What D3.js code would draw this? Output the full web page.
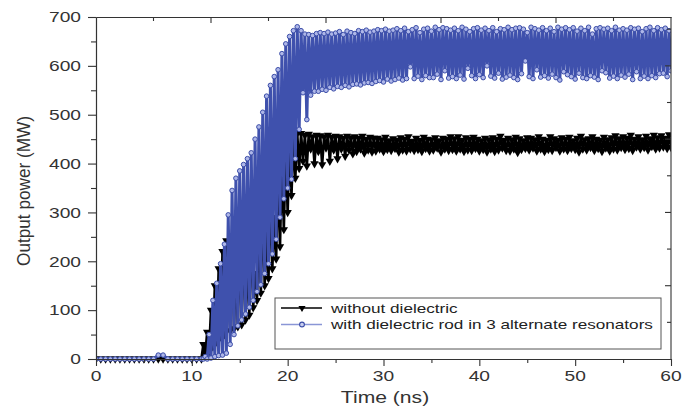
<!DOCTYPE html>
<html><head><meta charset="utf-8">
<script src="https://cdn.jsdelivr.net/npm/d3@7"></script>
<style>body{margin:0;background:#fff}</style>
</head><body><svg id="c" width="687" height="414"></svg>
<script>
const xTicks=[0,10,20,30,40,50,60];
const xMinor=[5,15,25,35,45,55];
const yTicks=[0,100,200,300,400,500,600,700];
const yMinor=[50,150,250,350,450,550,650];
const topTicks=[6,12,18,24,30,36,42,48,54];
const rightTicks=[75,150,225,300,375,450,525,600,675];
const seriesNames=["without dielectric","with dielectric rod in 3 alternate resonators"];
const xTitle="Time (ns)";
const yTitle="Output power (MW)";

const timeNs=[0,0.5,1,1.5,2,2.5,3,3.5,4,4.5,5,5.5,6,6.5,7,7.5,8,8.5,9,9.5,10,10.5,11,
11.2,11.4,11.6,11.8,12,12.2,12.4,12.6,12.8,13,
13.2,13.4,13.6,13.8,14,14.2,14.4,14.6,14.8,15,
15.2,15.4,15.6,15.8,16,16.2,16.4,16.6,16.8,17,
17.2,17.4,17.6,17.8,18,18.2,18.4,18.6,18.8,19,
19.2,19.4,19.6,19.8,20,20.2,20.4,20.6,20.8,21,
21.2,21.4,21.6,21.8,22,22.2,22.4,22.6,22.8,23,
23.2,23.4,23.6,23.8,24,24.2,24.4,24.6,24.8,25,
25.2,25.4,25.6,25.8,26,26.2,26.4,26.6,26.8,27,
27.2,27.4,27.6,27.8,28,28.2,28.4,28.6,28.8,29,
29.2,29.4,29.6,29.8,30,30.2,30.4,30.6,30.8,31,
31.2,31.4,31.6,31.8,32,32.2,32.4,32.6,32.8,33,
33.2,33.4,33.6,33.8,34,34.2,34.4,34.6,34.8,35,
35.2,35.4,35.6,35.8,36,36.2,36.4,36.6,36.8,37,
37.2,37.4,37.6,37.8,38,38.2,38.4,38.6,38.8,39,
39.2,39.4,39.6,39.8,40,40.2,40.4,40.6,40.8,41,
41.2,41.4,41.6,41.8,42,42.2,42.4,42.6,42.8,43,
43.2,43.4,43.6,43.8,44,44.2,44.4,44.6,44.8,45,
45.2,45.4,45.6,45.8,46,46.2,46.4,46.6,46.8,47,
47.2,47.4,47.6,47.8,48,48.2,48.4,48.6,48.8,49,
49.2,49.4,49.6,49.8,50,50.2,50.4,50.6,50.8,51,
51.2,51.4,51.6,51.8,52,52.2,52.4,52.6,52.8,53,
53.2,53.4,53.6,53.8,54,54.2,54.4,54.6,54.8,55,
55.2,55.4,55.6,55.8,56,56.2,56.4,56.6,56.8,57,
57.2,57.4,57.6,57.8,58,58.2,58.4,58.6,58.8,59,
59.2,59.4,59.6,59.8,60];

const powerWithout=[0,0,0,0,0,0,0,0,0,0,0,0,0,0,0,0,0,0,0,0,0,0,0,
30,8,55,15,100,25,150,35,185,45,
220,50,242,150,58,250,62,190,66,255,
70,270,80,210,90,290,105,175,120,300,
135,330,150,260,165,360,185,290,205,385,
230,410,265,430,300,445,335,455,370,462,
390,462,405,458,395,460,430,455,400,458,
425,457,398,455,432,458,405,454,428,456,
410,455,430,452,415,456,428,453,420,455,
425,452,430,456,422,450,428,454,424,452,
426,452,430,449,425,454,429,447,427,451,
431,448,424,453,428,450,426,455,430,446,
427,452,429,448,425,454,431,450,426,449,
428,453,432,447,424,452,430,450,427,455,
429,451,426,455,430,448,425,453,428,450,
427,454,431,450,426,447,429,452,424,449,
430,453,425,450,428,456,432,448,427,452,
426,449,430,454,423,451,429,447,431,453,
428,452,432,449,426,455,430,450,425,448,
429,455,427,451,433,448,426,453,430,450,
427,454,431,447,429,452,424,456,430,449,
428,451,433,455,427,450,431,448,425,454,
432,449,426,453,430,457,428,451,433,455,
429,452,431,458,427,450,434,455,430,449,
433,456,428,451,435,458,430,453,432,457,
434,452,431,459,433];

const powerWithRod=[0,0,0,0,0,0,0,0,0,0,0,0,0,8,8,0,0,0,0,0,0,0,0,
0,5,0,50,2,120,5,155,7,195,
8,235,12,295,30,345,50,370,68,385,
80,398,92,410,106,422,120,450,138,475,
152,505,175,538,195,560,215,578,245,592,
290,625,328,645,350,660,368,672,410,680,
470,672,545,665,490,664,540,662,548,666,
548,668,552,666,550,669,556,665,553,667,
558,670,556,664,560,671,557,668,562,666,
563,672,561,670,565,673,566,669,564,671,
568,674,570,672,567,675,573,671,569,673,
572,676,575,672,571,677,574,670,598,674,
574,678,579,668,572,675,580,677,576,671,
576,679,583,674,572,678,590,676,575,673,
578,677,574,672,581,679,573,675,595,670,
580,676,574,678,582,673,576,677,600,672,
579,678,575,670,585,676,573,674,577,679,
581,674,576,677,572,678,584,675,610,668,
578,679,574,676,592,673,577,678,580,672,
575,677,583,670,576,679,571,675,588,678,
582,674,578,678,573,671,585,677,576,672,
574,679,580,665,577,676,572,678,590,675,
586,677,575,672,579,679,574,673,581,676,
577,673,583,678,572,675,588,677,574,670,
579,676,574,679,580,672,576,678,584,674,
585,677,578,672,590];

const W=687,H=414,L=96,R=671,T=17,B=359;
const SX=1.28;
const font="'Liberation Sans', Arial, Helvetica, sans-serif";
const ink="#333";
const svg=d3.select("#c");
svg.append("rect").attr("width",W).attr("height",H).attr("fill","#fff");
const x=d3.scaleLinear().domain([0,60]).range([L,R]);
const y=d3.scaleLinear().domain([0,700]).range([B,T]);

svg.append("defs").append("clipPath").attr("id","clip")
  .append("rect").attr("x",L).attr("y",T-8).attr("width",R-L).attr("height",B-T+14);
const plot=svg.append("g").attr("clip-path","url(#clip)");

const n=Math.min(timeNs.length,powerWithout.length,powerWithRod.length);
const blackPts=d3.range(n).map(i=>({t:timeNs[i],v:powerWithout[i]}));
const bluePts=d3.range(n).map(i=>({t:timeNs[i],v:powerWithRod[i]}));
const line=d3.line().x(d=>x(d.t)).y(d=>y(d.v));
const tri=d3.symbol().type(d3.symbolTriangle).size(30)();

plot.append("path").datum(blackPts).attr("d",line).attr("fill","none").attr("stroke","#000")
  .attr("stroke-width",2.6).attr("stroke-linejoin","round");
plot.append("g").selectAll("path").data(blackPts).join("path").attr("d",tri)
  .attr("transform",d=>`translate(${x(d.t)},${y(d.v)}) rotate(180)`).attr("fill","#000");

plot.append("path").datum(bluePts).attr("d",line).attr("fill","none").attr("stroke","#3f51ad")
  .attr("stroke-width",3).attr("stroke-linejoin","round");
plot.append("g").selectAll("circle").data(bluePts).join("circle")
  .attr("cx",d=>x(d.t)).attr("cy",d=>y(d.v)).attr("r",2.3)
  .attr("fill","#aeb7e8").attr("stroke","#3a4ca8").attr("stroke-width",1);

// axes
function styleAxis(g){g.selectAll("path,line").attr("stroke",ink).attr("stroke-width",1.1);}
svg.append("g").attr("transform",`translate(0,${B})`)
  .call(d3.axisBottom(x).tickValues(xTicks).tickSize(7).tickSizeOuter(0).tickFormat("")).call(styleAxis);
svg.append("g").attr("transform",`translate(0,${B})`)
  .call(d3.axisBottom(x).tickValues(xMinor).tickSize(4).tickSizeOuter(0).tickFormat("")).call(styleAxis);
svg.append("g").attr("transform",`translate(${L},0)`)
  .call(d3.axisLeft(y).tickValues(yTicks).tickSize(8).tickSizeOuter(0).tickFormat("")).call(styleAxis);
svg.append("g").attr("transform",`translate(${L},0)`)
  .call(d3.axisLeft(y).tickValues(yMinor).tickSize(5).tickSizeOuter(0).tickFormat("")).call(styleAxis);
// top axis (inward ticks)
const xTop=d3.scaleLinear().domain([0,60]).range([L,R]);
svg.append("g").attr("transform",`translate(0,${T})`)
  .call(d3.axisBottom(xTop).tickValues(topTicks).tickSize(0).tickSizeOuter(0).tickFormat("")).call(styleAxis);
svg.append("g").selectAll("line").data(topTicks).join("line")
  .attr("x1",d=>xTop(d)).attr("x2",d=>xTop(d)).attr("y1",T).attr("y2",(d,i)=>T+(i%2?6:4))
  .attr("stroke",ink).attr("stroke-width",1.1);
// right axis (inward ticks)
svg.append("line").attr("x1",R).attr("x2",R).attr("y1",T).attr("y2",B).attr("stroke",ink).attr("stroke-width",1.1);
svg.append("g").selectAll("line").data(rightTicks).join("line")
  .attr("y1",d=>y(d)).attr("y2",d=>y(d)).attr("x1",R).attr("x2",(d,i)=>R-(i%2?6:4))
  .attr("stroke",ink).attr("stroke-width",1.1);

// tick labels
svg.append("g").selectAll("text").data(xTicks).join("text")
  .attr("transform",d=>`translate(${x(d)},376) scale(${SX},1)`)
  .attr("text-anchor","middle").attr("dy","0.35em")
  .attr("font-family",font).attr("font-size",15).attr("fill",ink).text(d=>d);
svg.append("g").selectAll("text").data(yTicks).join("text")
  .attr("transform",d=>`translate(81,${y(d)}) scale(${SX},1)`)
  .attr("text-anchor","end").attr("dy","0.35em")
  .attr("font-family",font).attr("font-size",15).attr("fill",ink).text(d=>d);

// titles
svg.append("text").attr("transform",`translate(385,397) scale(${SX},1)`)
  .attr("text-anchor","middle").attr("dy","0.35em")
  .attr("font-family",font).attr("font-size",16.5).attr("fill",ink).text(xTitle);
svg.append("text").attr("transform",`translate(23,191) scale(1.12,1) rotate(-90)`)
  .attr("text-anchor","middle").attr("dy","0.35em")
  .attr("font-family",font).attr("font-size",17.2).attr("fill",ink).text(yTitle);

// legend
const lg=svg.append("g");
lg.append("rect").attr("x",275).attr("y",298).attr("width",386).attr("height",51)
  .attr("fill","#fff").attr("stroke","#555").attr("stroke-width",1);
const rows=[{y:308,c:"#000"},{y:324.5,c:"#8a96d6"}];
rows.forEach((r,i)=>{
  lg.append("line").attr("x1",281).attr("x2",322).attr("y1",r.y).attr("y2",r.y).attr("stroke",r.c).attr("stroke-width",1.3);
  if(i===0){
    lg.append("path").attr("d",d3.symbol().type(d3.symbolTriangle).size(22)()).attr("transform",`translate(302,${r.y}) rotate(180)`).attr("fill","#000");
  } else {
    lg.append("circle").attr("cx",302).attr("cy",r.y).attr("r",2.4).attr("fill","#c9cff0").attr("stroke","#3a4ca8").attr("stroke-width",1.1);
  }
  lg.append("text").attr("transform",`translate(331,${r.y}) scale(${SX},1)`).attr("dy","0.35em")
    .attr("font-family",font).attr("font-size",13.4).attr("fill","#222").text(seriesNames[i]);
});
</script></body></html>
